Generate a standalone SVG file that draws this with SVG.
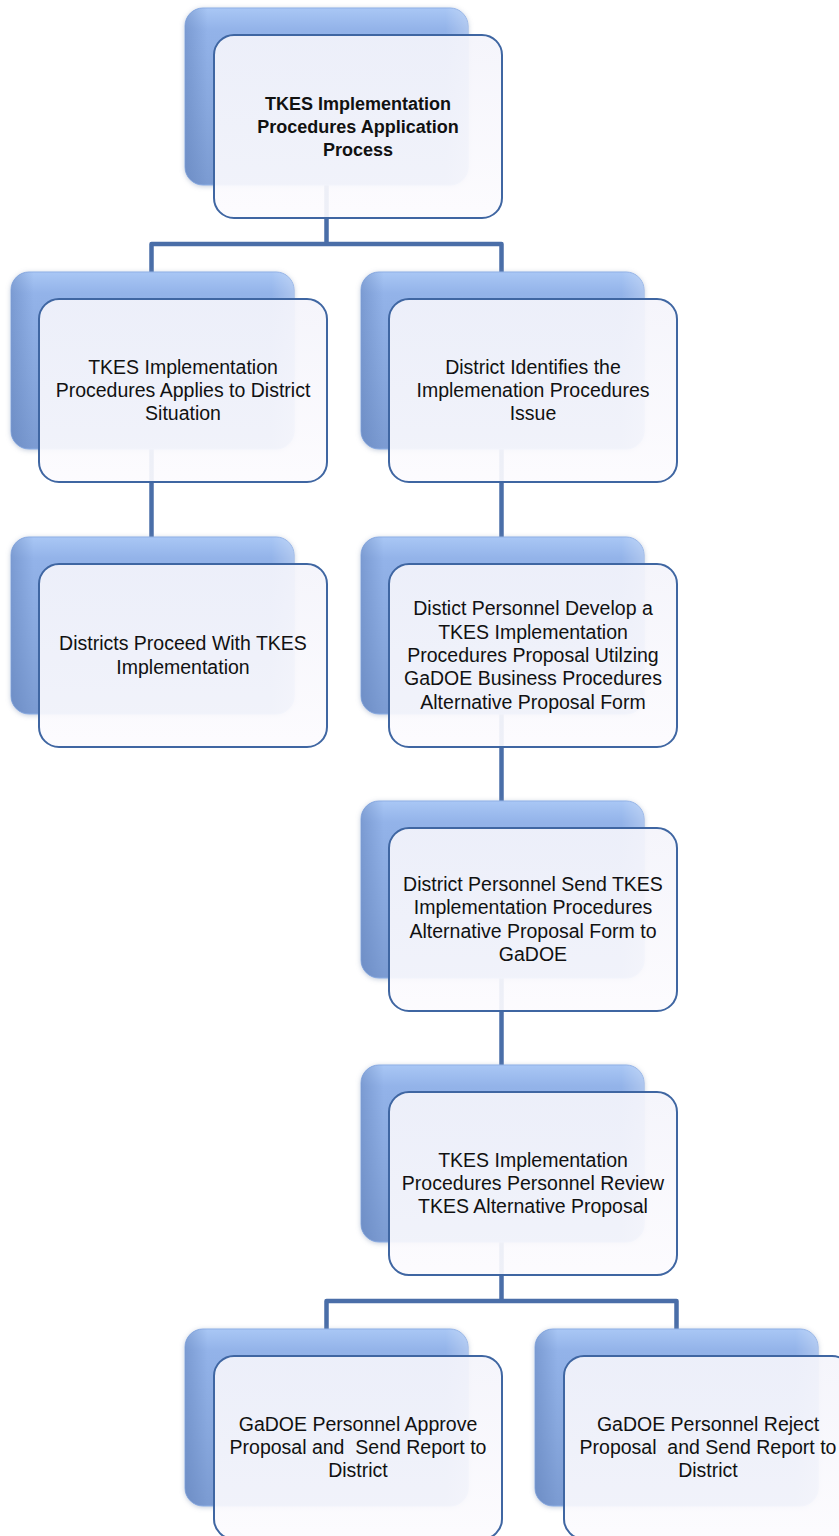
<svg xmlns="http://www.w3.org/2000/svg" width="839" height="1536" viewBox="0 0 839 1536">
<defs>
<linearGradient id="backGrad" x1="0" y1="0" x2="0" y2="1">
<stop offset="0" stop-color="#a9c7f5"/>
<stop offset="0.12" stop-color="#93b3e9"/>
<stop offset="0.6" stop-color="#87a7dd"/>
<stop offset="1" stop-color="#7b9bd2"/>
</linearGradient>
<linearGradient id="sideShade" x1="0" y1="0" x2="1" y2="0">
<stop offset="0" stop-color="#5d7db6" stop-opacity="0.45"/>
<stop offset="0.08" stop-color="#5d7db6" stop-opacity="0"/>
<stop offset="0.92" stop-color="#ffffff" stop-opacity="0"/>
<stop offset="1" stop-color="#ffffff" stop-opacity="0.25"/>
</linearGradient>
<linearGradient id="frontGrad" x1="0" y1="0" x2="0" y2="1">
<stop offset="0" stop-color="#f4f4fb"/>
<stop offset="1" stop-color="#fcfbfe"/>
</linearGradient>
<filter id="soft" x="-10%" y="-10%" width="120%" height="120%">
<feGaussianBlur in="SourceAlpha" stdDeviation="2.5"/>
<feOffset dx="0" dy="1" result="b"/>
<feFlood flood-color="#8a9ab8" flood-opacity="0.5"/>
<feComposite in2="b" operator="in" result="s"/>
<feMerge><feMergeNode in="s"/><feMergeNode in="SourceGraphic"/></feMerge>
</filter>
</defs>
<style>
.back{fill:url(#backGrad);stroke:#8fb0e6;stroke-width:1;filter:url(#soft)}
.backshade{fill:url(#sideShade);stroke:none}
.front{fill:url(#frontGrad);fill-opacity:0.92;stroke:#3f66a2;stroke-width:2}
.conn{fill:none;stroke:#4a6ea8;stroke-width:4.5;stroke-linejoin:round}
.t{font-family:"Liberation Sans",Arial,sans-serif;font-size:19.5px;fill:#111;text-anchor:middle}
.tb{font-family:"Liberation Sans",Arial,sans-serif;font-size:18px;font-weight:bold;fill:#111;text-anchor:middle}
</style>
<rect width="839" height="1536" fill="#ffffff"/>
<g id="connectors">
<path class="conn" d="M326.5,185 V244 M151.5,274 V244 H501.5 V274"/>
<path class="conn" d="M151.5,449 V539"/>
<path class="conn" d="M501.5,449 V539"/>
<path class="conn" d="M501.5,714 V803"/>
<path class="conn" d="M501.5,978 V1067"/>
<path class="conn" d="M501.5,1242 V1301 M326.5,1331 V1301 H676.5 V1331"/>
</g>
<g id="node-top">
<rect class="back" x="185" y="8" width="283" height="177" rx="18"/>
<rect class="backshade" x="185" y="8" width="283" height="177" rx="18"/>
<rect class="front" x="214" y="35" width="288" height="183" rx="20"/>
<text class="tb" x="358" y="109.5">TKES Implementation</text>
<text class="tb" x="358" y="132.5">Procedures Application</text>
<text class="tb" x="358" y="155.5">Process</text>
</g>
<g id="node-applies">
<rect class="back" x="11" y="272" width="283" height="177" rx="18"/>
<rect class="backshade" x="11" y="272" width="283" height="177" rx="18"/>
<rect class="front" x="39" y="299" width="288" height="183" rx="20"/>
<text class="t" x="183" y="373.7">TKES Implementation</text>
<text class="t" x="183" y="397">Procedures Applies to District</text>
<text class="t" x="183" y="420.3">Situation</text>
</g>
<g id="node-identifies">
<rect class="back" x="361" y="272" width="283" height="177" rx="18"/>
<rect class="backshade" x="361" y="272" width="283" height="177" rx="18"/>
<rect class="front" x="389" y="299" width="288" height="183" rx="20"/>
<text class="t" x="533" y="373.7">District Identifies the</text>
<text class="t" x="533" y="397">Implemenation Procedures</text>
<text class="t" x="533" y="420.3">Issue</text>
</g>
<g id="node-proceed">
<rect class="back" x="11" y="537" width="283" height="177" rx="18"/>
<rect class="backshade" x="11" y="537" width="283" height="177" rx="18"/>
<rect class="front" x="39" y="564" width="288" height="183" rx="20"/>
<text class="t" x="183" y="650.4">Districts Proceed With TKES</text>
<text class="t" x="183" y="673.7">Implementation</text>
</g>
<g id="node-develop">
<rect class="back" x="361" y="537" width="283" height="177" rx="18"/>
<rect class="backshade" x="361" y="537" width="283" height="177" rx="18"/>
<rect class="front" x="389" y="564" width="288" height="183" rx="20"/>
<text class="t" x="533" y="615.4">Distict Personnel Develop a</text>
<text class="t" x="533" y="638.7">TKES Implementation</text>
<text class="t" x="533" y="662">Procedures Proposal Utilzing</text>
<text class="t" x="533" y="685.3">GaDOE Business Procedures</text>
<text class="t" x="533" y="708.6">Alternative Proposal Form</text>
</g>
<g id="node-send">
<rect class="back" x="361" y="801" width="283" height="177" rx="18"/>
<rect class="backshade" x="361" y="801" width="283" height="177" rx="18"/>
<rect class="front" x="389" y="828" width="288" height="183" rx="20"/>
<text class="t" x="533" y="891">District Personnel Send TKES</text>
<text class="t" x="533" y="914.3">Implementation Procedures</text>
<text class="t" x="533" y="937.6">Alternative Proposal Form to</text>
<text class="t" x="533" y="960.9">GaDOE</text>
</g>
<g id="node-review">
<rect class="back" x="361" y="1065" width="283" height="177" rx="18"/>
<rect class="backshade" x="361" y="1065" width="283" height="177" rx="18"/>
<rect class="front" x="389" y="1092" width="288" height="183" rx="20"/>
<text class="t" x="533" y="1166.7">TKES Implementation</text>
<text class="t" x="533" y="1190">Procedures Personnel Review</text>
<text class="t" x="533" y="1213.3">TKES Alternative Proposal</text>
</g>
<g id="node-approve">
<rect class="back" x="185" y="1329" width="283" height="177" rx="18"/>
<rect class="backshade" x="185" y="1329" width="283" height="177" rx="18"/>
<rect class="front" x="214" y="1356" width="288" height="183" rx="20"/>
<text class="t" x="358" y="1430.7">GaDOE Personnel Approve</text>
<text class="t" x="358" y="1454" xml:space="preserve">Proposal and  Send Report to</text>
<text class="t" x="358" y="1477.3">District</text>
</g>
<g id="node-reject">
<rect class="back" x="535" y="1329" width="283" height="177" rx="18"/>
<rect class="backshade" x="535" y="1329" width="283" height="177" rx="18"/>
<rect class="front" x="564" y="1356" width="288" height="183" rx="20"/>
<text class="t" x="708" y="1430.7">GaDOE Personnel Reject</text>
<text class="t" x="708" y="1454" xml:space="preserve">Proposal  and Send Report to</text>
<text class="t" x="708" y="1477.3">District</text>
</g>
</svg>
